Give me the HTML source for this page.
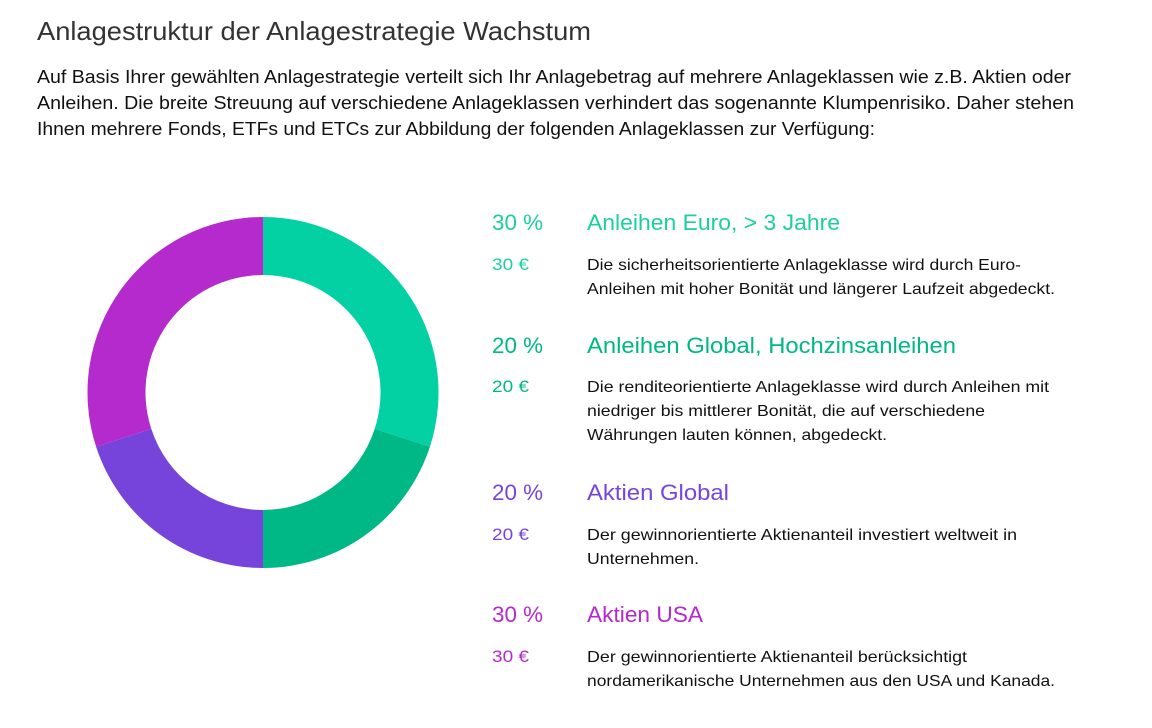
<!DOCTYPE html>
<html><head><meta charset="utf-8"><style>
html,body{margin:0;padding:0;background:#fff;width:1152px;height:728px;overflow:hidden}
svg text{font-family:"Liberation Sans",sans-serif}
</style></head><body>
<svg width="1152" height="728" viewBox="0 0 1152 728">
<text x="37" y="40" font-size="26" fill="#333" textLength="554" lengthAdjust="spacingAndGlyphs">Anlagestruktur der Anlagestrategie Wachstum</text>
<g font-size="18" fill="#111">
<text x="37" y="83" textLength="1034" lengthAdjust="spacingAndGlyphs">Auf Basis Ihrer gewählten Anlagestrategie verteilt sich Ihr Anlagebetrag auf mehrere Anlageklassen wie z.B. Aktien oder</text>
<text x="37" y="109" textLength="1037" lengthAdjust="spacingAndGlyphs">Anleihen. Die breite Streuung auf verschiedene Anlageklassen verhindert das sogenannte Klumpenrisiko. Daher stehen</text>
<text x="37" y="135" textLength="838" lengthAdjust="spacingAndGlyphs">Ihnen mehrere Fonds, ETFs und ETCs zur Abbildung der folgenden Anlageklassen zur Verfügung:</text>
</g>
<g id="donut"></g>
<g font-size="16" fill="#111">
<g>
<text x="492" y="230" font-size="22" fill="#1ccfa0" textLength="51" lengthAdjust="spacingAndGlyphs">30 %</text>
<text x="587" y="230" font-size="22" fill="#1ccfa0" textLength="253" lengthAdjust="spacingAndGlyphs">Anleihen Euro, &gt; 3 Jahre</text>
<text x="492" y="270" font-size="17" fill="#1ccfa0" textLength="37" lengthAdjust="spacingAndGlyphs">30 €</text>
<text x="587" y="270" textLength="434" lengthAdjust="spacingAndGlyphs">Die sicherheitsorientierte Anlageklasse wird durch Euro-</text>
<text x="587" y="294" textLength="468" lengthAdjust="spacingAndGlyphs">Anleihen mit hoher Bonität und längerer Laufzeit abgedeckt.</text>
</g>
<g>
<text x="492" y="353" font-size="22" fill="#00b886" textLength="51" lengthAdjust="spacingAndGlyphs">20 %</text>
<text x="587" y="353" font-size="22" fill="#00b886" textLength="369" lengthAdjust="spacingAndGlyphs">Anleihen Global, Hochzinsanleihen</text>
<text x="492" y="392" font-size="17" fill="#00b886" textLength="37" lengthAdjust="spacingAndGlyphs">20 €</text>
<text x="587" y="392" textLength="462" lengthAdjust="spacingAndGlyphs">Die renditeorientierte Anlageklasse wird durch Anleihen mit</text>
<text x="587" y="416" textLength="398" lengthAdjust="spacingAndGlyphs">niedriger bis mittlerer Bonität, die auf verschiedene</text>
<text x="587" y="440" textLength="300" lengthAdjust="spacingAndGlyphs">Währungen lauten können, abgedeckt.</text>
</g>
<g>
<text x="492" y="500" font-size="22" fill="#7744db" textLength="51" lengthAdjust="spacingAndGlyphs">20 %</text>
<text x="587" y="500" font-size="22" fill="#7744db" textLength="142" lengthAdjust="spacingAndGlyphs">Aktien Global</text>
<text x="492" y="540" font-size="17" fill="#7744db" textLength="37" lengthAdjust="spacingAndGlyphs">20 €</text>
<text x="587" y="540" textLength="430" lengthAdjust="spacingAndGlyphs">Der gewinnorientierte Aktienanteil investiert weltweit in</text>
<text x="587" y="564" textLength="112" lengthAdjust="spacingAndGlyphs">Unternehmen.</text>
</g>
<g>
<text x="492" y="622" font-size="22" fill="#b42acc" textLength="51" lengthAdjust="spacingAndGlyphs">30 %</text>
<text x="587" y="622" font-size="22" fill="#b42acc" textLength="116" lengthAdjust="spacingAndGlyphs">Aktien USA</text>
<text x="492" y="662" font-size="17" fill="#b42acc" textLength="37" lengthAdjust="spacingAndGlyphs">30 €</text>
<text x="587" y="662" textLength="380" lengthAdjust="spacingAndGlyphs">Der gewinnorientierte Aktienanteil berücksichtigt</text>
<text x="587" y="686" textLength="468" lengthAdjust="spacingAndGlyphs">nordamerikanische Unternehmen aus den USA und Kanada.</text>
</g>
</g>
</svg>
<script>
const categories = ["Anleihen Euro, > 3 Jahre","Anleihen Global, Hochzinsanleihen","Aktien Global","Aktien USA"];
const shares = [30, 20, 20, 30];
const colors = ["#03d1a4","#00b886","#7744db","#b42acc"];
const cx = 263, cy = 392.5, R = 175.5, r = 117.5;
const g = document.getElementById('donut');
const total = shares.reduce((a,b)=>a+b,0);
function pt(rad, a){ return [cx + rad*Math.sin(a), cy - rad*Math.cos(a)]; }
let acc = 0;
shares.forEach((v,i)=>{
  const a0 = acc/total*2*Math.PI; acc += v; const a1 = acc/total*2*Math.PI;
  const large = (a1-a0) > Math.PI ? 1 : 0;
  const p0 = pt(R,a0), p1 = pt(R,a1), q1 = pt(r,a1), q0 = pt(r,a0);
  const d = `M${p0} A${R},${R} 0 ${large} 1 ${p1} L${q1} A${r},${r} 0 ${large} 0 ${q0} Z`;
  const path = document.createElementNS('http://www.w3.org/2000/svg','path');
  path.setAttribute('d', d);
  path.setAttribute('fill', colors[i]);
  
  
  g.appendChild(path);
});
</script>
</body></html>
